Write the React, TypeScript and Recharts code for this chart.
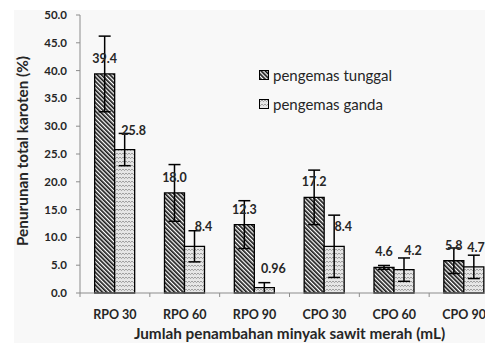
import { Bar, BarChart, ErrorBar, LabelList, XAxis, YAxis } from 'recharts'

const categories = ['RPO 30', 'RPO 60', 'RPO 90', 'CPO 30', 'CPO 60', 'CPO 90']
const tunggal = [39.4, 18.0, 12.3, 17.2, 4.6, 5.8]
const tunggalErr = [6.8, 5.1, 4.3, 4.9, 0.35, 2.3]
const ganda = [25.8, 8.4, 0.96, 8.4, 4.2, 4.7]
const gandaErr = [2.9, 2.8, 0.9, 5.6, 2.1, 2.1]
const yTicks = [0, 5, 10, 15, 20, 25, 30, 35, 40, 45, 50]

const seriesNames = { tunggal: 'pengemas tunggal', ganda: 'pengemas ganda' }

const data = categories.map((name, i) => ({
  name,
  tunggal: tunggal[i],
  tunggalErr: tunggalErr[i],
  ganda: ganda[i],
  gandaErr: gandaErr[i],
}))

const CHART_W = 500
const CHART_H = 343
const VISIBLE_W = 485
const PLOT_LEFT = 80
const MARGIN_RIGHT = 1
const HALF_BAND = (CHART_W - MARGIN_RIGHT - PLOT_LEFT) / categories.length / 2
const TICK_SIZE = 4
const TICK_MARGIN = 14
const FONT = 'Lato, "Open Sans", sans-serif'
const TEXT = '#262626'
const AXIS = '#8c8c8c'

const fmt = (v: number) => (v < 1 ? String(v) : v.toFixed(1))

function XTick(props: any) {
  const { x, y, payload, index } = props
  const axisY = y - TICK_SIZE - TICK_MARGIN
  return (
    <g>
      <line x1={x - HALF_BAND} x2={x - HALF_BAND} y1={axisY} y2={axisY + 4} stroke={AXIS} />
      {index === categories.length - 1 && (
        <line x1={x + HALF_BAND} x2={x + HALF_BAND} y1={axisY} y2={axisY + 4} stroke={AXIS} />
      )}
      <text x={x} y={y} dy={8} textAnchor="middle" fill={TEXT} fontSize={12.5} fontWeight={700} fontFamily={FONT}>
        {payload.value}
      </text>
    </g>
  )
}

function valueLabel(dx: number, dy: number) {
  return (props: any) => {
    const { x, y, width, value } = props
    // keep the label inside the visible picture
    const cx = Math.min(x + width / 2 + dx, VISIBLE_W - 9)
    return (
      <text x={cx} y={y + dy} textAnchor="middle" fill={TEXT} fontSize={12.5} fontWeight={700} fontFamily={FONT}>
        {fmt(value)}
      </text>
    )
  }
}

function LegendBox() {
  const items = [
    { key: 'tunggal', fill: 'url(#hatchTunggal)' },
    { key: 'ganda', fill: 'url(#hatchGanda)' },
  ] as const
  return (
    <div style={{ position: 'absolute', left: 259, top: 60, fontFamily: FONT, fontSize: 15, color: TEXT }}>
      {items.map((it) => (
        <div key={it.key} style={{ display: 'flex', alignItems: 'center', height: 29 }}>
          <svg width={10} height={10} style={{ marginRight: 4 }}>
            <rect x={0.5} y={0.5} width={9} height={9} fill={it.fill} stroke="#000" />
          </svg>
          <span>{seriesNames[it.key]}</span>
        </div>
      ))}
    </div>
  )
}

export default function App() {
  return (
    <div
      style={{
        position: 'absolute',
        left: 0,
        top: 0,
        width: VISIBLE_W,
        height: 343,
        overflow: 'hidden',
        background: '#fff',
      }}
    >
      <div style={{ position: 'absolute', left: 14, top: 10, right: 0, bottom: 0, background: '#f8f8f8' }} />
      <div style={{ position: 'absolute', left: 0, top: 0 }}>
        <BarChart
          width={CHART_W}
          height={CHART_H}
          data={data}
          margin={{ top: 15, right: MARGIN_RIGHT, left: 0, bottom: 20 }}
          barCategoryGap="21%"
          barGap={0}
        >
          <defs>
            <pattern id="hatchTunggal" width="3" height="3" patternUnits="userSpaceOnUse" patternTransform="rotate(-45)">
              <rect width="3" height="3" fill="#fff" />
              <rect width="1.7" height="3" fill="#1a1a1a" />
            </pattern>
            <pattern id="hatchGanda" width="6" height="4" patternUnits="userSpaceOnUse">
              <rect width="6" height="4" fill="#e6e6e6" />
              <path d="M0 1 L1.5 2.6 L3 1 L4.5 2.6 L6 1" fill="none" stroke="#8c8c8c" strokeWidth="0.8" />
            </pattern>
          </defs>
          <XAxis
            dataKey="name"
            height={30}
            axisLine={{ stroke: AXIS }}
            tickLine={false}
            tickSize={TICK_SIZE}
            tickMargin={TICK_MARGIN}
            tick={<XTick />}
            interval={0}
            label={{
              content: () => (
                <text
                  x={289.5}
                  y={338.5}
                  textAnchor="middle"
                  fill={TEXT}
                  fontSize={15.3}
                  fontWeight={700}
                  fontFamily={FONT}
                >
                  Jumlah penambahan minyak sawit merah (mL)
                </text>
              ),
            }}
          />
          <YAxis
            width={PLOT_LEFT}
            domain={[0, 50]}
            ticks={yTicks}
            interval={0}
            tickFormatter={(v: number) => v.toFixed(1)}
            axisLine={{ stroke: AXIS }}
            tickLine={{ stroke: AXIS }}
            tickSize={4}
            tickMargin={9}
            tick={{ fill: TEXT, fontSize: 11.5, fontWeight: 700, fontFamily: FONT }}
            label={{
              content: () => (
                <text
                  x={0}
                  y={0}
                  transform="translate(28 151) rotate(-90)"
                  textAnchor="middle"
                  fill={TEXT}
                  fontSize={15.3}
                  fontWeight={700}
                  fontFamily={FONT}
                >
                  Penurunan total karoten (%)
                </text>
              ),
            }}
          />
          <Bar
            dataKey="tunggal"
            name={seriesNames.tunggal}
            fill="url(#hatchTunggal)"
            stroke="#000"
            strokeWidth={1.3}
            isAnimationActive={false}
          >
            <ErrorBar dataKey="tunggalErr" width={6} stroke="#000" strokeWidth={1.5} />
            <LabelList dataKey="tunggal" content={valueLabel(0, -11)} />
          </Bar>
          <Bar
            dataKey="ganda"
            name={seriesNames.ganda}
            fill="url(#hatchGanda)"
            stroke="#000"
            strokeWidth={1.3}
            isAnimationActive={false}
          >
            <ErrorBar dataKey="gandaErr" width={6} stroke="#000" strokeWidth={1.5} />
            <LabelList dataKey="ganda" content={valueLabel(9, -15)} />
          </Bar>
        </BarChart>
      </div>
      <LegendBox />
    </div>
  )
}
